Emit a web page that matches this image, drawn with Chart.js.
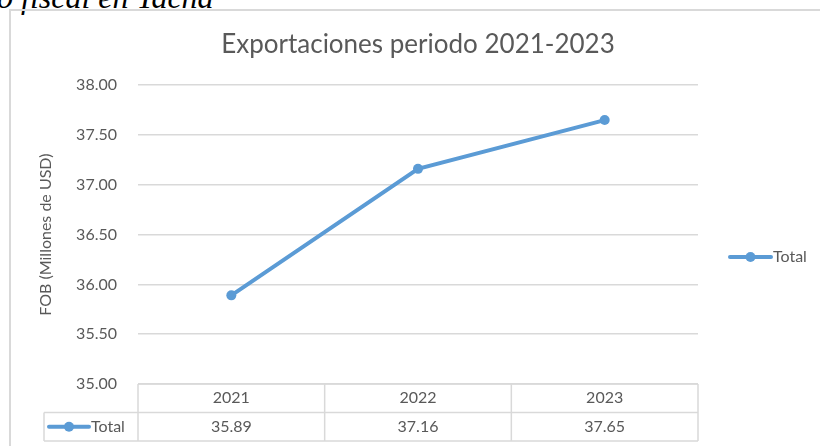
<!DOCTYPE html>
<html>
<head>
<meta charset="utf-8">
<script src="https://cdn.jsdelivr.net/npm/chart.js@4.4.1/dist/chart.umd.min.js"></script>
<style>
  body { margin: 0; background: #fff; overflow: hidden; }
  #wrap { position: relative; width: 820px; height: 446px; overflow: hidden; }
  #caption { position: absolute; left: -3px; top: -21px; line-height: 30px; font: italic 32px "Liberation Serif"; color: #000; white-space: nowrap; }
  #frame { position: absolute; left: 9px; top: 9px; width: 900px; height: 500px; border: 2px solid #d9d9d9; }
  canvas { position: absolute; left: 0; top: 0; }
</style>
</head>
<body>
<div id="wrap">
  <div id="caption">o fiscal en Tacna</div>
  <div id="frame"></div>
  <canvas id="myChart" width="820" height="446"></canvas>
</div>
<script>
// values
const years = ['2021', '2022', '2023'];
const totals = [35.89, 37.16, 37.65];
const yTicks = [35.00, 35.50, 36.00, 36.50, 37.00, 37.50, 38.00];
const seriesName = 'Total';

const textColor = '#595959';
const lineColor = '#5b9bd5';
const gridColor = '#d9d9d9';
const fontFamily = 'Lato';

function drawKey(ctx, x1, x2, y) {
    ctx.save();
    ctx.strokeStyle = lineColor;
    ctx.lineWidth = 4;
    ctx.lineCap = 'round';
    ctx.beginPath();
    ctx.moveTo(x1, y);
    ctx.lineTo(x2, y);
    ctx.stroke();
    ctx.fillStyle = lineColor;
    ctx.beginPath();
    ctx.arc((x1 + x2) / 2, y, 5, 0, Math.PI * 2);
    ctx.fill();
    ctx.restore();
}

// data table under the plot + legend on the right
const tablePlugin = {
    id: 'dataTable',
    afterDraw(chart) {
        const ctx = chart.ctx;
        const area = chart.chartArea;
        const xs = chart.scales.x;
        const ds = chart.data.datasets[0];
        const rowH = 28.5;
        const top = area.bottom, mid = top + rowH, bot = mid + rowH;
        const keyLeft = 44;

        let edges = [area.left];
        for (let i = 0; i < years.length - 1; i++) {
            edges.push((xs.getPixelForValue(i) + xs.getPixelForValue(i + 1)) / 2);
        }
        edges.push(area.right);

        ctx.save();
        ctx.strokeStyle = gridColor;
        ctx.lineWidth = 1.5;
        ctx.beginPath();
        ctx.moveTo(area.left, top); ctx.lineTo(area.right, top);
        ctx.moveTo(keyLeft, mid); ctx.lineTo(area.right, mid);
        ctx.moveTo(keyLeft, bot); ctx.lineTo(area.right, bot);
        ctx.moveTo(keyLeft, mid); ctx.lineTo(keyLeft, bot);
        edges.forEach(e => { ctx.moveTo(e, top); ctx.lineTo(e, bot); });
        ctx.stroke();

        ctx.fillStyle = textColor;
        ctx.font = '16px ' + fontFamily;
        ctx.textAlign = 'center';
        ctx.textBaseline = 'middle';
        chart.data.labels.forEach((lab, i) => {
            const cx = xs.getPixelForValue(i);
            ctx.fillText(lab, cx, top + rowH / 2);
            ctx.fillText(ds.data[i].toFixed(2), cx, mid + rowH / 2);
        });

        ctx.textAlign = 'left';
        drawKey(ctx, 49, 89, mid + rowH / 2);
        ctx.fillText(ds.label, 91, mid + rowH / 2);

        // legend
        const ly = 257;
        drawKey(ctx, 730, 771, ly);
        ctx.fillText(ds.label, 773, ly);
        ctx.restore();
    }
};

new Chart(document.getElementById('myChart'), {
    type: 'line',
    data: {
        labels: years,
        datasets: [{
            label: seriesName,
            data: totals,
            borderColor: lineColor,
            backgroundColor: lineColor,
            borderWidth: 4,
            pointRadius: 5,
            pointBorderWidth: 0,
            pointBackgroundColor: lineColor,
            tension: 0
        }]
    },
    options: {
        responsive: false,
        animation: false,
        layout: { padding: { left: 36, right: 122, top: 0, bottom: 0 } },
        plugins: {
            legend: { display: false },
            tooltip: { enabled: false },
            title: {
                display: true,
                fullSize: false,
                text: 'Exportaciones periodo 2021-2023',
                color: textColor,
                font: { family: fontFamily, size: 26, weight: 'normal', lineHeight: 1.2 },
                padding: { top: 29, bottom: 25 }
            }
        },
        scales: {
            x: {
                offset: true,
                grid: { display: false },
                border: { display: false },
                ticks: { display: false },
                afterFit(s) { s.height = 62; }
            },
            y: {
                min: yTicks[0],
                max: yTicks[yTicks.length - 1],
                grid: { color: gridColor, lineWidth: 1.5, drawTicks: false },
                border: { display: false },
                ticks: {
                    stepSize: yTicks[1] - yTicks[0],
                    padding: 21,
                    color: textColor,
                    font: { family: fontFamily, size: 16 },
                    callback: v => v.toFixed(2)
                },
                title: {
                    display: true,
                    text: 'FOB (Millones de USD)',
                    color: textColor,
                    font: { family: fontFamily, size: 16 },
                    padding: 0
                },
                afterFit(s) { s.width = 102; }
            }
        }
    },
    plugins: [tablePlugin]
});
</script>
</body>
</html>
